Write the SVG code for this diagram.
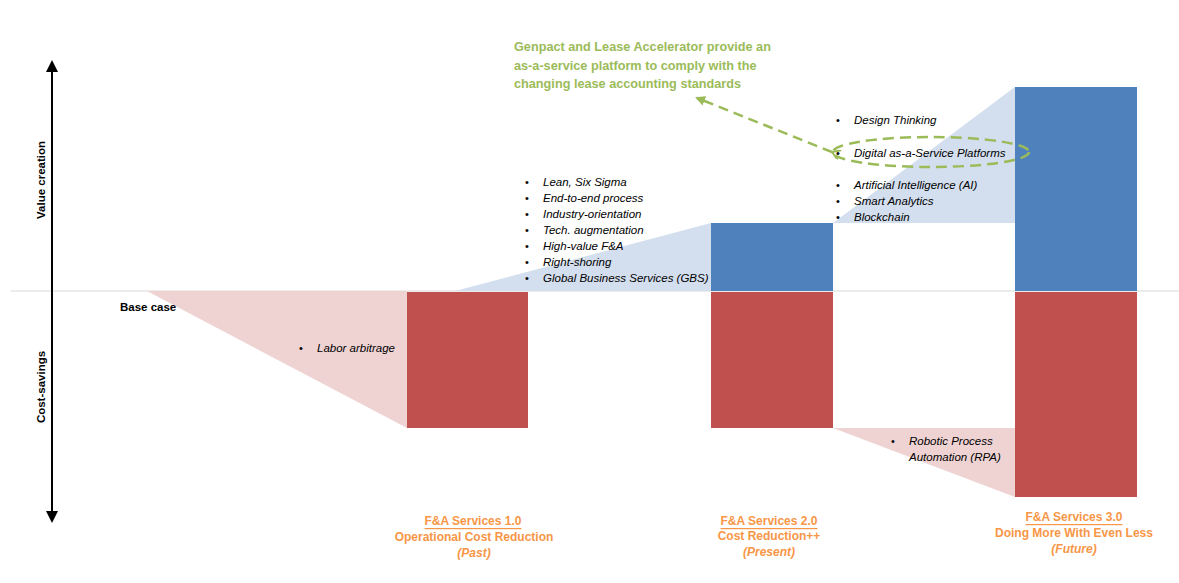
<svg xmlns="http://www.w3.org/2000/svg" width="1179" height="583" viewBox="0 0 1179 583">
<style>
text{font-family:"Liberation Sans",Arial,sans-serif;dominant-baseline:central}
.it{font-style:italic;font-size:11.5px;fill:#000}
.bul{font-size:11px;fill:#000}
.ax{font-weight:bold;font-size:11.5px;fill:#000}
.lbl{font-weight:bold;font-size:12px;fill:#F79646;text-anchor:middle}
.grn{font-weight:bold;font-size:12.7px;fill:#9BBB59}
.red{fill:#C0504D}
.blue{fill:#4F81BD}
.lb{fill:#D3DEEE}
.pk{fill:#EFD3D3}
</style>
<defs>
<marker id="ah" viewBox="0 0 10 10" refX="5" refY="5" markerWidth="6" markerHeight="6" orient="auto-start-reverse">
<path d="M0,0 L10,5 L0,10 z" fill="#000"/>
</marker>
<marker id="gh" viewBox="0 0 10 10" refX="8" refY="5" markerWidth="4" markerHeight="4" orient="auto">
<path d="M0,0 L10,5 L0,10 z" fill="#9BBB59"/>
</marker>
<marker id="gt" viewBox="0 0 10 10" refX="9" refY="5" markerWidth="4" markerHeight="4" orient="auto">
<path d="M1,0 L9,5 L1,10" fill="none" stroke="#9BBB59" stroke-width="2"/>
</marker>
</defs>

<!-- baseline -->
<line x1="11" y1="291" x2="1179" y2="291" stroke="#D9D9D9" stroke-width="1"/>

<!-- shaded areas -->
<g id="areas">
<polygon class="pk" points="147,291 407,291 407,428"/>
<polygon class="lb" points="455,291 711,223 711,291"/>
<polygon class="lb" points="833,223 1015,87 1015,223"/>
<polygon class="pk" points="833,428 1015,428 1015,497"/>
</g>

<!-- bars -->
<g id="bar1"><rect class="red" x="407" y="292" width="121" height="136"/></g>
<g id="bar2">
<rect class="blue" x="711" y="223" width="122" height="68"/>
<rect class="red" x="711" y="292" width="122" height="136"/>
</g>
<g id="bar3">
<rect class="blue" x="1015" y="87" width="122" height="204"/>
<rect class="red" x="1015" y="292" width="122" height="205"/>
</g>

<!-- axis -->
<g id="axis">
<line x1="52" y1="66" x2="52" y2="517" stroke="#000" stroke-width="2" marker-start="url(#ah)" marker-end="url(#ah)"/>
<text class="ax" transform="translate(41,180) rotate(-90)" text-anchor="middle">Value creation</text>
<text class="ax" transform="translate(41,387) rotate(-90)" text-anchor="middle">Cost-savings</text>
<text class="ax" x="120" y="307" font-size="11">Base case</text>
</g>

<!-- labor arbitrage -->
<g id="labor">
<text class="bul" x="301" y="348" text-anchor="middle">•</text>
<text class="it" x="317" y="348">Labor arbitrage</text>
</g>

<!-- list 1 -->
<g id="list1">
<text class="bul" x="527" y="182" text-anchor="middle">•</text><text class="it" x="543" y="182">Lean, Six Sigma</text>
<text class="bul" x="527" y="198" text-anchor="middle">•</text><text class="it" x="543" y="198">End-to-end process</text>
<text class="bul" x="527" y="214" text-anchor="middle">•</text><text class="it" x="543" y="214">Industry-orientation</text>
<text class="bul" x="527" y="230" text-anchor="middle">•</text><text class="it" x="543" y="230">Tech. augmentation</text>
<text class="bul" x="527" y="246" text-anchor="middle">•</text><text class="it" x="543" y="246">High-value F&amp;A</text>
<text class="bul" x="527" y="262" text-anchor="middle">•</text><text class="it" x="543" y="262">Right-shoring</text>
<text class="bul" x="527" y="278" text-anchor="middle">•</text><text class="it" x="543" y="278">Global Business Services (GBS)</text>
</g>

<!-- list 2 -->
<g id="list2">
<text class="bul" x="838" y="120" text-anchor="middle">•</text><text class="it" x="854" y="120">Design Thinking</text>
<text class="bul" x="838" y="153" text-anchor="middle">•</text><text class="it" x="854" y="153">Digital as-a-Service Platforms</text>
<text class="bul" x="838" y="185" text-anchor="middle">•</text><text class="it" x="854" y="185">Artificial Intelligence (AI)</text>
<text class="bul" x="838" y="201" text-anchor="middle">•</text><text class="it" x="854" y="201">Smart Analytics</text>
<text class="bul" x="838" y="217" text-anchor="middle">•</text><text class="it" x="854" y="217">Blockchain</text>
</g>

<!-- RPA -->
<g id="rpa">
<text class="bul" x="893" y="441" text-anchor="middle">•</text>
<text class="it" x="909" y="441">Robotic Process</text>
<text class="it" x="909" y="457">Automation (RPA)</text>
</g>

<!-- callout -->
<g id="callout">
<text class="grn" x="514" y="47">Genpact and Lease Accelerator provide an</text>
<text class="grn" x="514" y="66">as-a-service platform to comply with the</text>
<text class="grn" x="514" y="84">changing lease accounting standards</text>
<ellipse cx="931" cy="152" rx="98" ry="15" fill="none" stroke="#9BBB59" stroke-width="2.5" stroke-dasharray="11,6"/>
</g>

<g id="connectors">
<line x1="832" y1="152" x2="697" y2="98" stroke="#9BBB59" stroke-width="2.5" stroke-dasharray="10,6" marker-start="url(#gt)" marker-end="url(#gh)"/>
</g>

<!-- bottom labels -->
<g id="label1">
<text class="lbl" x="473" y="521" text-decoration="underline">F&amp;A Services 1.0</text>
<text class="lbl" x="474" y="537">Operational Cost Reduction</text>
<text class="lbl" x="474" y="553" font-style="italic">(Past)</text>
</g>
<g id="label2">
<text class="lbl" x="769" y="521" text-decoration="underline">F&amp;A Services 2.0</text>
<text class="lbl" x="769" y="536">Cost Reduction++</text>
<text class="lbl" x="769" y="552" font-style="italic">(Present)</text>
</g>
<g id="label3">
<text class="lbl" x="1074" y="517" text-decoration="underline">F&amp;A Services 3.0</text>
<text class="lbl" x="1074" y="533">Doing More With Even Less</text>
<text class="lbl" x="1074" y="549" font-style="italic">(Future)</text>
</g>
</svg>
